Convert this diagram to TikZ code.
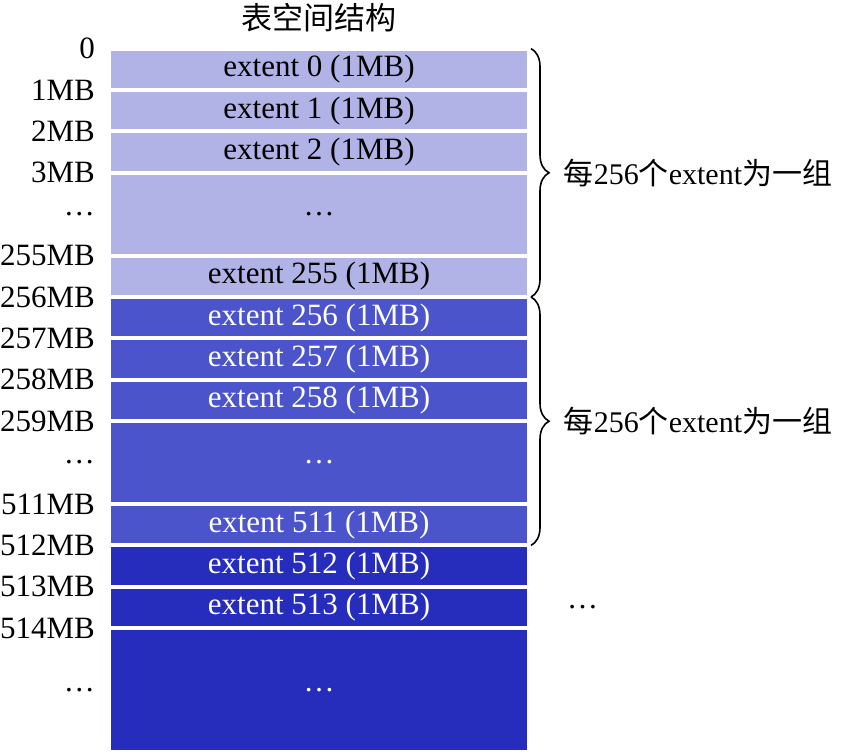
\documentclass[tikz,border=0pt]{standalone}
\usepackage{fontspec}
\setmainfont{Liberation Serif}
\newfontfamily\cjk{Noto Sans CJK SC}
\usepackage{tikz}
\usetikzlibrary{positioning,decorations.pathreplacing}
\usepackage{xcolor}

\definecolor{extA}{RGB}{177,179,230}
\definecolor{extB}{RGB}{76,84,203}
\definecolor{extC}{RGB}{38,44,187}

\begin{document}
\begin{tikzpicture}[
      x=1pt, y=-1pt,
      cell/.style={rectangle, draw=white, line width=4pt, outer sep=0pt, inner sep=0pt, minimum width=420pt, minimum height=41.4pt, font=\fontsize{31}{36}\selectfont}, % one extent per row
      cellA/.style={cell, fill=extA},
      cellB/.style={cell, fill=extB, text=white},
      cellC/.style={cell, fill=extC, text=white},
      tall/.style={minimum height=82.8pt},
      addr/.style={inner sep=0pt, font=\fontsize{31}{36}\selectfont},
      grp/.style={inner sep=0pt, anchor=west, font=\fontsize{30}{36}\selectfont},
      brace/.style={decorate, decoration={brace, amplitude=18pt}, line width=1.6pt}
  ]
      \useasboundingbox (0,0) rectangle (845,754);

      % Title
      \node (title) [font=\fontsize{31}{36}\selectfont\cjk, inner sep=0pt] at (319,18) {表空间结构};

      % Extents - stacked from the top
      \node (e0) [cellA] at (319,69.3) {extent 0 (1MB)};
      \node (e1) [cellA, below=0pt of e0] {extent 1 (1MB)};
      \node (e2) [cellA, below=0pt of e1] {extent 2 (1MB)};
      \node (d1) [cellA, tall, below=0pt of e2] {…};
      \node (e255) [cellA, below=0pt of d1] {extent 255 (1MB)};
      \node (e256) [cellB, below=0pt of e255] {extent 256 (1MB)};
      \node (e257) [cellB, below=0pt of e256] {extent 257 (1MB)};
      \node (e258) [cellB, below=0pt of e257] {extent 258 (1MB)};
      \node (d2) [cellB, tall, below=0pt of e258] {…};
      \node (e511) [cellB, below=0pt of d2] {extent 511 (1MB)};
      \node (e512) [cellC, below=0pt of e511] {extent 512 (1MB)};
      \node (e513) [cellC, below=0pt of e512] {extent 513 (1MB)};
      \node (d3) [cellC, minimum height=124.2pt, below=0pt of e513] {…};

      % Offsets on the left
      \node (m0) [addr, left=14pt of e0.north west] {0};
      \node (m1) [addr, left=14pt of e0.south west] {1MB};
      \node (m2) [addr, left=14pt of e1.south west] {2MB};
      \node (m3) [addr, left=14pt of e2.south west] {3MB};
      \node (md1) [addr, left=14pt of d1.west] {…};
      \node (m255) [addr, left=14pt of d1.south west] {255MB};
      \node (m256) [addr, left=14pt of e255.south west] {256MB};
      \node (m257) [addr, left=14pt of e256.south west] {257MB};
      \node (m258) [addr, left=14pt of e257.south west] {258MB};
      \node (m259) [addr, left=14pt of e258.south west] {259MB};
      \node (md2) [addr, left=14pt of d2.west] {…};
      \node (m511) [addr, left=14pt of d2.south west] {511MB};
      \node (m512) [addr, left=14pt of e511.south west] {512MB};
      \node (m513) [addr, left=14pt of e512.south west] {513MB};
      \node (m514) [addr, left=14pt of e513.south west] {514MB};
      \node (md3) [addr, left=14pt of d3.west] {…};

      % Groups of 256 extents
      \draw[brace] ([xshift=2pt]e0.north east) -- node[grp, right=32pt] (g1) {{\cjk 每}256{\cjk 个}extent{\cjk 为一组}} ([xshift=2pt]e255.south east);
      \draw[brace] ([xshift=2pt]e256.north east) -- node[grp, right=32pt] (g2) {{\cjk 每}256{\cjk 个}extent{\cjk 为一组}} ([xshift=2pt]e511.south east);
      \node (more) [addr, right=38pt of e513.east] {…};
  \end{tikzpicture}
\end{document}
